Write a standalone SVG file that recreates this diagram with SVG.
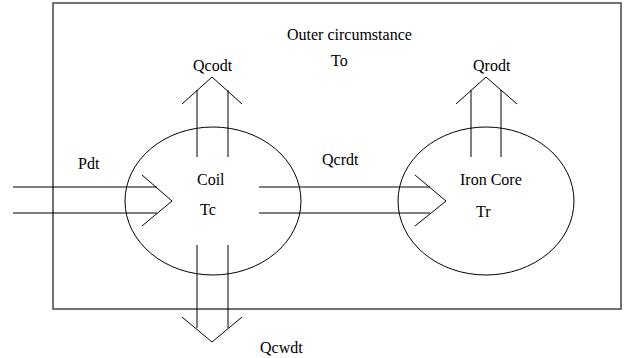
<svg xmlns="http://www.w3.org/2000/svg" width="628" height="358" viewBox="0 0 628 358">
<style>
.ln{stroke:#000;stroke-width:1;fill:none}
.box{stroke:#444;stroke-width:1.5;fill:none}
.node{stroke:#000;stroke-width:1;fill:none}
</style>
<rect width="628" height="358" fill="#fff"/>
<g id="outer">
<rect class="box" x="53" y="3" width="568" height="306"/>
<text font-family="Liberation Serif, serif" font-size="16" x="287" y="40">Outer circumstance</text>
<text font-family="Liberation Serif, serif" font-size="16" x="331" y="66">To</text>
</g>
<g id="coil">
<ellipse class="node" cx="213" cy="201" rx="88" ry="74"/>
<text font-family="Liberation Serif, serif" font-size="16" x="197" y="185">Coil</text>
<text font-family="Liberation Serif, serif" font-size="16" x="200" y="215">Tc</text>
</g>
<g id="core">
<ellipse class="node" cx="486" cy="201" rx="88" ry="74"/>
<text font-family="Liberation Serif, serif" font-size="16" x="460" y="185">Iron Core</text>
<text font-family="Liberation Serif, serif" font-size="16" x="476" y="217">Tr</text>
</g>
<g id="connectors">
<g id="pdt">
<line class="ln" x1="13" y1="187" x2="157" y2="187"/>
<line class="ln" x1="13" y1="213" x2="157" y2="213"/>
<polyline class="ln" points="142,175 172,201 142,226"/>
<text font-family="Liberation Serif, serif" font-size="16" x="78" y="169">Pdt</text>
</g>
<g id="qcrdt">
<line class="ln" x1="259" y1="187" x2="430" y2="187"/>
<line class="ln" x1="259" y1="213" x2="430" y2="213"/>
<polyline class="ln" points="415,175 446,201 415,226"/>
<text font-family="Liberation Serif, serif" font-size="16" x="322" y="165">Qcrdt</text>
</g>
<g id="qcodt">
<line class="ln" x1="197" y1="157" x2="197" y2="90"/>
<line class="ln" x1="228" y1="157" x2="228" y2="90"/>
<polyline class="ln" points="182,104 212,77 242,104"/>
<text font-family="Liberation Serif, serif" font-size="16" x="193" y="71">Qcodt</text>
</g>
<g id="qrodt">
<line class="ln" x1="471" y1="157" x2="471" y2="90"/>
<line class="ln" x1="501" y1="157" x2="501" y2="90"/>
<polyline class="ln" points="456,104 486,77 517,104"/>
<text font-family="Liberation Serif, serif" font-size="16" x="473" y="71">Qrodt</text>
</g>
<g id="qcwdt">
<line class="ln" x1="197" y1="245" x2="197" y2="328"/>
<line class="ln" x1="228" y1="245" x2="228" y2="328"/>
<polyline class="ln" points="182,317 212,342 242,317"/>
<text font-family="Liberation Serif, serif" font-size="16" x="260" y="353">Qcwdt</text>
</g>
</g>
</svg>
